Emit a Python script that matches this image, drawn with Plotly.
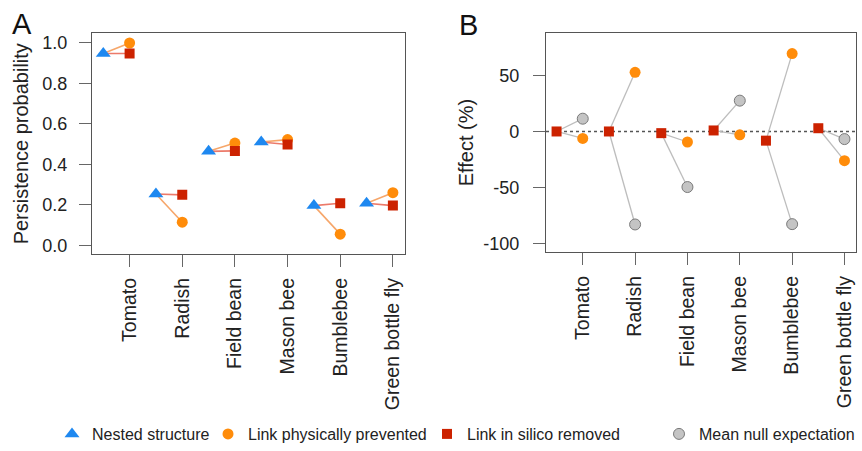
import plotly.graph_objects as go

categories = ["Tomato", "Radish", "Field bean", "Mason bee", "Bumblebee", "Green bottle fly"]

# Panel A: persistence probability
nested = [0.948, 0.254, 0.465, 0.511, 0.197, 0.209]
prevented = [1.0, 0.115, 0.506, 0.523, 0.056, 0.261]
removed = [0.948, 0.250, 0.467, 0.499, 0.209, 0.197]

# Panel B: effect (%)
effect_removed = [0.0, 0.0, -1.5, 0.9, -8.2, 2.9]
effect_prevented = [-6.2, 52.8, -9.4, -3.0, 69.5, -26.1]
effect_null = [11.4, -83.0, -49.6, 27.5, -82.7, -6.8]

y_ticks_a = [0.0, 0.2, 0.4, 0.6, 0.8, 1.0]
y_ticks_b = [-100, -50, 0, 50]

BLUE = "#1E88F0"
ORANGE = "#FF8C0A"
RED = "#CC2200"
GREY_FILL = "#C4C4C4"
GREY_LINE = "#7A7A7A"
FONT = "Liberation Sans, Arial, sans-serif"

idx = list(range(len(categories)))
left = [i - 0.5 for i in idx]


def segments(x0, y0, x1, y1):
    xs, ys = [], []
    for a, b, c, d in zip(x0, y0, x1, y1):
        xs += [a, c, None]
        ys += [b, d, None]
    return xs, ys


fig = go.Figure()

# ---- Panel A connecting lines
sx, sy = segments(left, nested, idx, prevented)
fig.add_trace(go.Scatter(x=sx, y=sy, mode="lines", line=dict(color="#F6A66A", width=1.6),
                         showlegend=False, hoverinfo="skip", xaxis="x", yaxis="y"))
sx, sy = segments(left, nested, idx, removed)
fig.add_trace(go.Scatter(x=sx, y=sy, mode="lines", line=dict(color="#EC7A6A", width=1.6),
                         showlegend=False, hoverinfo="skip", xaxis="x", yaxis="y"))

fig.add_trace(go.Scatter(x=left, y=nested, mode="markers", name="Nested structure",
                         marker=dict(symbol="triangle-up", size=13, color=BLUE),
                         xaxis="x", yaxis="y", legend="legend"))
fig.add_trace(go.Scatter(x=idx, y=prevented, mode="markers", name="Link physically prevented",
                         marker=dict(symbol="circle", size=11, color=ORANGE),
                         xaxis="x", yaxis="y", legend="legend2"))
fig.add_trace(go.Scatter(x=idx, y=removed, mode="markers", name="Link in silico removed",
                         marker=dict(symbol="square", size=10, color=RED),
                         xaxis="x", yaxis="y", legend="legend3"))

# ---- Panel B connecting lines
sx, sy = segments(left, effect_removed, idx, effect_prevented)
fig.add_trace(go.Scatter(x=sx, y=sy, mode="lines", line=dict(color="#BDBDBD", width=1.3),
                         showlegend=False, hoverinfo="skip", xaxis="x2", yaxis="y2"))
sx, sy = segments(left, effect_removed, idx, effect_null)
fig.add_trace(go.Scatter(x=sx, y=sy, mode="lines", line=dict(color="#BDBDBD", width=1.3),
                         showlegend=False, hoverinfo="skip", xaxis="x2", yaxis="y2"))

fig.add_trace(go.Scatter(x=idx, y=effect_null, mode="markers", name="Mean null expectation",
                         marker=dict(symbol="circle", size=11, color=GREY_FILL,
                                     line=dict(color=GREY_LINE, width=1)),
                         xaxis="x2", yaxis="y2", legend="legend4"))
fig.add_trace(go.Scatter(x=idx, y=effect_prevented, mode="markers", name="Link physically prevented",
                         marker=dict(symbol="circle", size=11, color=ORANGE),
                         xaxis="x2", yaxis="y2", showlegend=False))
fig.add_trace(go.Scatter(x=left, y=effect_removed, mode="markers", name="Link in silico removed",
                         marker=dict(symbol="square", size=10, color=RED),
                         xaxis="x2", yaxis="y2", showlegend=False))

W, H = 862, 451

axis_common = dict(
    showline=True, mirror=True, linecolor="#555555", linewidth=1.3,
    ticks="outside", ticklen=12, tickcolor="#666666", tickwidth=1.3,
    showgrid=False, zeroline=False, automargin=False,
    tickfont=dict(family=FONT, size=18, color="#222222"),
)

xa = dict(axis_common, tickmode="array", tickvals=idx, ticktext=categories, tickangle=-90,
          ticklabelstandoff=3, tickfont=dict(family=FONT, size=19.5, color="#222222"))


def legend_at(symbol_center_px):
    return dict(orientation="h", x=(symbol_center_px - 21) / W, xanchor="left",
                y=1 - 441 / H, yanchor="middle",
                font=dict(family=FONT, size=16, color="#222222"), itemwidth=30,
                bgcolor="rgba(0,0,0,0)", borderwidth=0)


fig.update_layout(
    width=W, height=H,
    margin=dict(l=0, r=0, t=0, b=0),
    paper_bgcolor="white", plot_bgcolor="white",
    font=dict(family=FONT, color="#222222"),
    xaxis=dict(xa, domain=[92 / W, 405 / W], range=[-0.714, 5.23]),
    yaxis=dict(axis_common, domain=[1 - 258 / H, 1 - 34 / H], range=[-0.042, 1.047],
               tickmode="array", tickvals=y_ticks_a, tickformat=".1f", ticklabelstandoff=8,
               title=dict(text="Persistence probability", font=dict(family=FONT, size=20, color="#222222"),
                          standoff=8)),
    xaxis2=dict(xa, domain=[546 / W, 856 / W], range=[-0.702, 5.22], anchor="y2"),
    yaxis2=dict(axis_common, domain=[1 - 256 / H, 1 - 33.5 / H], range=[-107.6, 87.9], anchor="x2",
                tickmode="array", tickvals=y_ticks_b, ticktext=[str(v) for v in y_ticks_b],
                ticklabelstandoff=10,
                title=dict(text="Effect (%)", font=dict(family=FONT, size=20, color="#222222"),
                           standoff=4)),
    legend=legend_at(73),
    legend2=legend_at(229),
    legend3=legend_at(448),
    legend4=legend_at(680),
    shapes=[dict(type="line", xref="x2 domain", yref="y2", x0=0, x1=1, y0=0, y1=0,
                 line=dict(color="#555555", width=1.5, dash="dot"), layer="below")],
    annotations=[
        dict(text="A", x=10 / W, y=1 - 24 / H, xref="paper", yref="paper", xanchor="left",
             yanchor="middle", showarrow=False, font=dict(family=FONT, size=29, color="#111111")),
        dict(text="B", x=457 / W, y=1 - 25 / H, xref="paper", yref="paper", xanchor="left",
             yanchor="middle", showarrow=False, font=dict(family=FONT, size=29, color="#111111")),
    ],
)

fig.write_html("out.html", config={"displayModeBar": False},
               post_script="document.body.style.margin='0px';")
